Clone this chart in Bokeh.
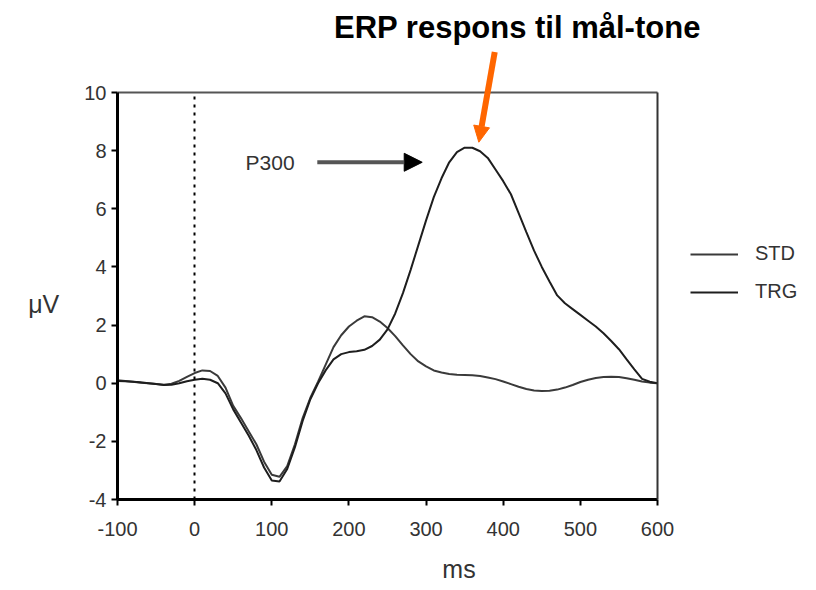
import numpy as np
from bokeh.plotting import figure
from bokeh.models import (Range1d, Arrow, NormalHead, Label, Legend,
                          LegendItem, FixedTicker, LinearAxis)
from bokeh.embed import file_html
from bokeh.resources import INLINE

# ---- data ----
ms = list(range(-100, 601, 10))
std = [0.10, 0.08, 0.05, 0.02, 0.00, -0.03, -0.05, -0.02, 0.08, 0.22,
       0.35, 0.44, 0.42, 0.25, -0.15, -0.78, -1.20, -1.65, -2.10, -2.70,
       -3.15, -3.22, -2.85, -2.10, -1.20, -0.50, 0.05, 0.65, 1.24, 1.65,
       1.95, 2.15, 2.30, 2.27, 2.12, 1.90, 1.62, 1.30, 1.00, 0.75,
       0.58, 0.44, 0.37, 0.32, 0.29, 0.28, 0.27, 0.25, 0.20, 0.14,
       0.06, -0.03, -0.12, -0.20, -0.25, -0.27, -0.26, -0.22, -0.15, -0.06,
       0.04, 0.12, 0.18, 0.21, 0.22, 0.21, 0.17, 0.12, 0.06, 0.02, 0.00]
trg = [0.08, 0.07, 0.05, 0.03, 0.00, -0.03, -0.06, -0.05, 0.00, 0.07,
       0.12, 0.15, 0.12, 0.00, -0.35, -0.90, -1.35, -1.80, -2.30, -2.90,
       -3.35, -3.38, -2.95, -2.20, -1.30, -0.55, 0.00, 0.45, 0.82, 1.00,
       1.07, 1.10, 1.15, 1.28, 1.50, 1.85, 2.40, 3.10, 3.90, 4.75,
       5.60, 6.40, 7.05, 7.60, 7.95, 8.10, 8.10, 7.98, 7.75, 7.35,
       6.95, 6.50, 5.85, 5.20, 4.56, 4.00, 3.50, 3.02, 2.75, 2.55,
       2.35, 2.15, 1.95, 1.72, 1.45, 1.17, 0.82, 0.48, 0.15, 0.05, 0.00]
x_ticks = [-100, 0, 100, 200, 300, 400, 500, 600]
y_ticks = [-4, -2, 0, 2, 4, 6, 8, 10]
x_lim = (-100, 600)
y_lim = (-4, 10)
series_names = ["STD", "TRG"]
title_text = "ERP respons til mål-tone"
p300_text = "P300"

FONT = "Liberation Sans"

# frame: left 117, right 800, top 8, bottom 499 (box -100..600 x -4..10)
PX_PER_MS = 540 / 700
PX_PER_UV = 407 / 14
x_max = x_lim[1] + 143 / PX_PER_MS
y_max = y_lim[1] + 84 / PX_PER_UV

p = figure(width=816, height=590, output_backend="svg", toolbar_location=None,
           x_range=Range1d(x_lim[0], x_max), y_range=Range1d(y_lim[0], y_max),
           min_border_left=117, min_border_right=16,
           min_border_top=8, min_border_bottom=91)
p.grid.visible = False
p.background_fill_color = "white"
p.border_fill_color = "white"
p.outline_line_color = None

for ax in (p.xaxis[0], p.yaxis[0]):
    ax.axis_line_width = 3
    ax.axis_line_color = "black"
    ax.major_tick_line_width = 2
    ax.major_tick_line_color = "black"
    ax.major_tick_out = 6
    ax.major_tick_in = 0
    ax.minor_tick_line_color = None
    ax.minor_tick_out = 0
    ax.major_label_text_font = FONT
    ax.major_label_text_font_size = "20px"
    ax.major_label_text_color = "#333333"
    ax.axis_label_text_font = FONT
    ax.axis_label_text_font_size = "25px"
    ax.axis_label_text_font_style = "normal"
    ax.axis_label_text_color = "#333333"

p.xaxis[0].ticker = FixedTicker(ticks=x_ticks)
p.yaxis[0].ticker = FixedTicker(ticks=y_ticks)
p.xaxis[0].major_label_overrides = {t: str(t) for t in x_ticks}
p.yaxis[0].major_label_overrides = {t: str(t) for t in y_ticks}
p.xaxis[0].bounds = x_lim
p.yaxis[0].bounds = y_lim
p.xaxis[0].axis_label = "ms"
# blank lines move the label down to the middle of the -4..10 box
p.yaxis[0].axis_label = "\n\n\nμV"
p.yaxis[0].axis_label_orientation = "horizontal"
p.xaxis[0].major_label_standoff = 16
p.yaxis[0].major_label_standoff = 5
p.xaxis[0].axis_label_standoff = 16
p.yaxis[0].axis_label_standoff = 22


def edge_axis(loc, bounds, color, width, dash="solid"):
    a = LinearAxis(fixed_location=loc, bounds=bounds,
                   ticker=FixedTicker(ticks=[]), axis_label=None,
                   axis_line_color=color, axis_line_width=width,
                   axis_line_dash=dash, major_tick_out=0, major_tick_in=0,
                   minor_tick_out=0, minor_tick_in=0, major_label_standoff=0,
                   major_tick_line_color=None, minor_tick_line_color=None)
    return a


# box top and right edges, and the stimulus-onset dotted line
p.add_layout(edge_axis(y_lim[1], x_lim, "#555555", 2), "below")
p.add_layout(edge_axis(x_lim[1], y_lim, "#333333", 2), "left")
p.add_layout(edge_axis(0, y_lim, "black", 2, "3 5"), "left")

r_std = p.line(ms, std, line_color="#3a3a3a", line_width=2)
r_trg = p.line(ms, trg, line_color="#1e1e1e", line_width=2)

legend = Legend(items=[LegendItem(label=series_names[0], renderers=[r_std]),
                       LegendItem(label=series_names[1], renderers=[r_trg])],
                location=(573, 196), glyph_width=48, glyph_height=20,
                label_height=20, spacing=15, padding=0, margin=0,
                label_standoff=17, border_line_alpha=0,
                background_fill_alpha=0,
                label_text_font=FONT, label_text_font_size="20px",
                label_text_color="#333333")
p.add_layout(legend)

# P300 annotation
p.add_layout(Label(x=66, y=7.6, text=p300_text, text_font=FONT,
                   text_font_size="21px", text_color="#333333",
                   text_align="left", text_baseline="middle"))
p.add_layout(Arrow(x_start=159, y_start=7.6, x_end=295, y_end=7.6,
                   line_color="#555555", line_width=4,
                   end=NormalHead(size=18, fill_color="black",
                                  line_color="black", line_width=1)))

# title and orange arrow
p.add_layout(Label(x=418.5, y=12.24, text=title_text, text_font=FONT,
                   text_font_size="31px", text_font_style="bold",
                   text_color="black", text_align="center",
                   text_baseline="middle"))
p.add_layout(Arrow(x_start=389, y_start=11.39, x_end=368.4, y_end=8.29,
                   line_color="#FF6600", line_width=6,
                   end=NormalHead(size=16, fill_color="#FF6600",
                                  line_color="#FF6600", line_width=1)))

open("out.html", "w").write(file_html(p, INLINE))
